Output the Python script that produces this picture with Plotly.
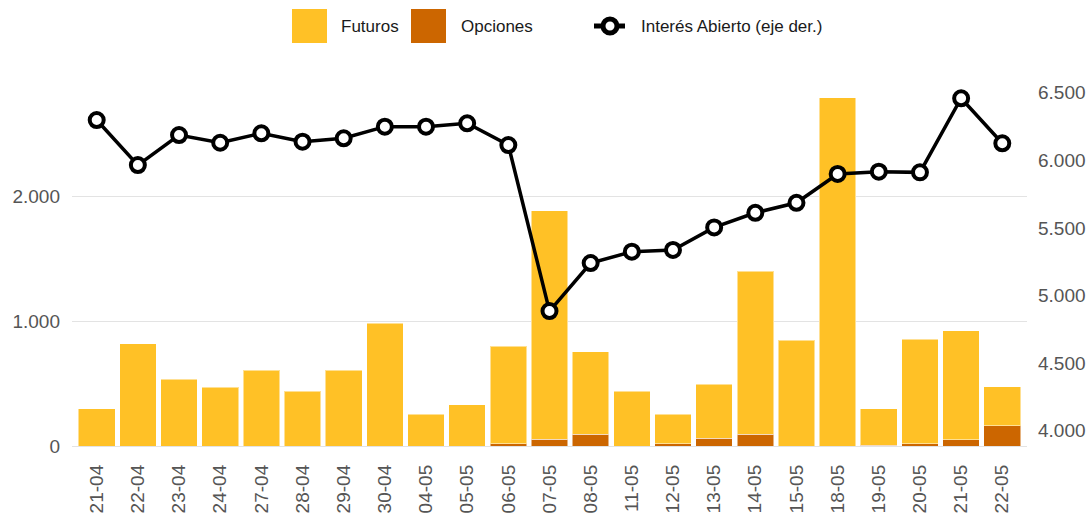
import plotly.graph_objects as go

categories = ["21-04", "22-04", "23-04", "24-04", "27-04", "28-04", "29-04", "30-04",
              "04-05", "05-05", "06-05", "07-05", "08-05", "11-05", "12-05", "13-05",
              "14-05", "15-05", "18-05", "19-05", "20-05", "21-05", "22-05"]
futuros = [299, 820, 535, 471, 609, 439, 609, 986, 254, 329, 781, 1832, 658, 441,
           236, 433, 1307, 850, 2793, 289, 837, 874, 313]
opciones = [0, 0, 0, 0, 0, 0, 0, 0, 0, 0, 18, 53, 96, 0, 18, 62, 96, 0, 0, 8, 18, 51, 163]
interes_abierto = [6298, 5965, 6187, 6130, 6200, 6138, 6163, 6249, 6249, 6274, 6113,
                   4885, 5240, 5324, 5337, 5504, 5612, 5686, 5899, 5916, 5911, 6459, 6126]
left_ticks = [0, 1000, 2000]
right_ticks = [4000, 4500, 5000, 5500, 6000, 6500]

YELLOW = "#FFC126"
ORANGE = "#CC6600"
FONT = "Liberation Sans, Arial, sans-serif"
TICK_COLOR = "#555555"
LEGEND_COLOR = "#1a1a1a"

fig = go.Figure()
fig.add_trace(go.Bar(x=categories, y=opciones, name="Opciones", marker_color=ORANGE,
                     marker_line=dict(color="rgba(255,255,255,0.5)", width=1)))
fig.add_trace(go.Bar(x=categories, y=futuros, name="Futuros", marker_color=YELLOW,
                     marker_line=dict(color="rgba(255,255,255,0.5)", width=1)))
fig.add_trace(go.Scatter(x=categories, y=interes_abierto, name="Interés Abierto (eje der.)",
                         yaxis="y2", mode="lines+markers",
                         line=dict(color="black", width=3.5),
                         marker=dict(size=14, color="white", line=dict(color="black", width=4))))

# plot area in pixels: left 72, right 1027, top 88, bottom 446
W, H = 1088, 524
L, R, T, B = 72, 1027, 88, 446
pw, ph = R - L, B - T

def px(x):
    return (x - L) / pw

def py(y):
    return (B - y) / ph

shapes = []
annotations = []
ly = 26
shapes.append(dict(type="rect", xref="paper", yref="paper", x0=px(292), x1=px(327),
                   y0=py(43), y1=py(9), fillcolor=YELLOW, line=dict(width=0)))
annotations.append(dict(xref="paper", yref="paper", x=px(339), y=py(ly), text="Futuros",
                        showarrow=False, xanchor="left", yanchor="middle",
                        font=dict(size=17, color=LEGEND_COLOR, family=FONT)))
shapes.append(dict(type="rect", xref="paper", yref="paper", x0=px(411), x1=px(446),
                   y0=py(43), y1=py(9), fillcolor=ORANGE, line=dict(width=0)))
annotations.append(dict(xref="paper", yref="paper", x=px(459), y=py(ly), text="Opciones",
                        showarrow=False, xanchor="left", yanchor="middle",
                        font=dict(size=17, color=LEGEND_COLOR, family=FONT)))
shapes.append(dict(type="line", xref="paper", yref="paper", x0=px(594), x1=px(625),
                   y0=py(ly), y1=py(ly), line=dict(color="black", width=5)))
shapes.append(dict(type="circle", xref="paper", yref="paper", x0=px(603), x1=px(617),
                   y0=py(ly + 7), y1=py(ly - 7), fillcolor="white",
                   line=dict(color="black", width=5)))
annotations.append(dict(xref="paper", yref="paper", x=px(639), y=py(ly),
                        text="Interés Abierto (eje der.)",
                        showarrow=False, xanchor="left", yanchor="middle",
                        font=dict(size=17, color=LEGEND_COLOR, family=FONT)))

fig.update_layout(
    width=W, height=H,
    margin=dict(l=L, r=W - R, t=T, b=H - B, pad=0, autoexpand=False),
    paper_bgcolor="white", plot_bgcolor="white",
    barmode="stack", bargap=0.11,
    showlegend=False,
    separators=",.",
    font=dict(family=FONT, size=19, color=TICK_COLOR),
    shapes=shapes, annotations=annotations,
    xaxis=dict(type="category", range=[-0.6, 22.6], tickangle=-90, showgrid=False,
               showline=False, ticks="", ticklabelstandoff=14, automargin=False,
               tickfont=dict(size=19, color=TICK_COLOR)),
    yaxis=dict(range=[0, 2871], tickvals=left_ticks, tickformat=",d", showgrid=True,
               gridcolor="#E3E3E3", gridwidth=1, zeroline=True, zerolinecolor="#E3E3E3",
               zerolinewidth=1, showline=False, ticks="", ticklabelstandoff=11,
               automargin=False, tickfont=dict(size=19, color=TICK_COLOR)),
    yaxis2=dict(range=[3887, 6535], tickvals=right_ticks, tickformat=",d", overlaying="y",
                side="right", showgrid=False, zeroline=False, showline=False, ticks="",
                ticklabelstandoff=10, automargin=False,
                tickfont=dict(size=19, color=TICK_COLOR)),
)

fig.write_html("out.html", config={"displayModeBar": False},
               post_script="document.body.style.margin='0';document.body.style.overflow='hidden';")
